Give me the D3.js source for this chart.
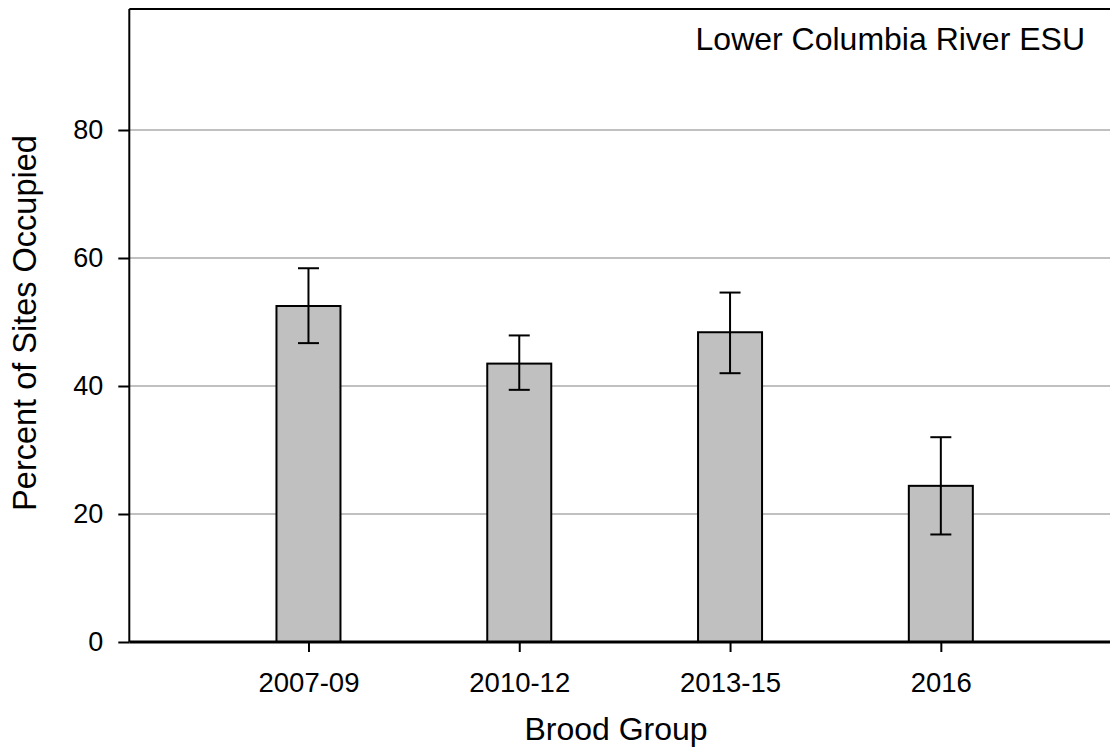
<!DOCTYPE html>
<html>
<head>
<meta charset="utf-8">
<script src="https://cdn.jsdelivr.net/npm/d3@7"></script>
<style>
  html, body { margin: 0; padding: 0; background: #fff; }
  svg { display: block; }
  text { font-family: "Liberation Sans", Arial, sans-serif; fill: #000; }
</style>
</head>
<body>
<svg id="chart" width="1110" height="748"></svg>
<script>
// Brood groups and occupancy estimates with confidence limits
const broodGroups = ["2007-09", "2010-12", "2013-15", "2016"];
const percentOccupied = [52.5, 43.5, 48.4, 24.4];
const upperLimit = [58.4, 47.9, 54.6, 32.0];
const lowerLimit = [46.7, 39.4, 42.0, 16.8];
const yTicks = [0, 20, 40, 60, 80];
const panelTitle = "Lower Columbia River ESU";

const svg = d3.select("#chart");
const plot = { left: 129.3, top: 9, bottom: 642, right: 1120 };
const FONT = "Liberation Sans, Arial, sans-serif";

const positions = broodGroups.map((d, i) => i + 1);
const x = d3.scaleLinear().domain([0.15, 4.85]).range([plot.left, plot.right]);
const y = d3.scaleLinear().domain([0, (plot.bottom - plot.top) / 6.4]).range([plot.bottom, plot.top]);

const barW = 64, capW = 21;

// horizontal gridlines
svg.append("g").selectAll("line").data(yTicks.filter(t => t > 0)).join("line")
  .attr("x1", plot.left).attr("x2", plot.right)
  .attr("y1", d => y(d)).attr("y2", d => y(d))
  .attr("stroke", "#c0c0c0").attr("stroke-width", 2);

// bars
svg.append("g").selectAll("rect").data(percentOccupied).join("rect")
  .attr("x", (d, i) => x(positions[i]) - barW / 2)
  .attr("width", barW)
  .attr("y", d => y(d))
  .attr("height", d => y(0) - y(d))
  .attr("fill", "#c0c0c0").attr("stroke", "#000").attr("stroke-width", 2);

// error bars
const eb = svg.append("g").attr("stroke", "#000").attr("stroke-width", 2);
broodGroups.forEach((g, i) => {
  const cx = x(positions[i]);
  eb.append("line").attr("x1", cx).attr("x2", cx).attr("y1", y(upperLimit[i])).attr("y2", y(lowerLimit[i]));
  eb.append("line").attr("x1", cx - capW / 2).attr("x2", cx + capW / 2).attr("y1", y(upperLimit[i])).attr("y2", y(upperLimit[i]));
  eb.append("line").attr("x1", cx - capW / 2).attr("x2", cx + capW / 2).attr("y1", y(lowerLimit[i])).attr("y2", y(lowerLimit[i]));
});

// frame: top edge
svg.append("line").attr("x1", plot.left).attr("x2", plot.right).attr("y1", plot.top).attr("y2", plot.top)
  .attr("stroke", "#000").attr("stroke-width", 2);

// y axis
const yAxis = svg.append("g").attr("transform", `translate(${plot.left},0)`)
  .call(d3.axisLeft(y).tickValues(yTicks).tickFormat(d3.format("d")).tickSize(11).tickPadding(15));
yAxis.select(".domain").attr("stroke-width", 2).attr("d", `M0,${plot.top}V${plot.bottom}`);
yAxis.selectAll(".tick line").attr("stroke-width", 2);
yAxis.selectAll(".tick text").attr("font-size", 27).attr("font-family", FONT);

// x axis
const xAxis = svg.append("g").attr("transform", `translate(0,${plot.bottom})`)
  .call(d3.axisBottom(x).tickValues(positions).tickFormat((d, i) => broodGroups[i]).tickSize(10).tickPadding(20));
xAxis.select(".domain").attr("stroke-width", 3).attr("d", `M${plot.left},0H${plot.right}`);
xAxis.selectAll(".tick line").attr("stroke-width", 2);
xAxis.selectAll(".tick text").attr("font-size", 27.5).attr("font-family", FONT);

// axis titles, centred on their axes
svg.append("text").attr("x", 616).attr("y", 740).attr("text-anchor", "middle")
  .attr("font-size", 32).text("Brood Group");
svg.append("text").attr("transform", `translate(36,323) rotate(-90)`).attr("text-anchor", "middle")
  .attr("font-size", 32.5).text("Percent of Sites Occupied");

// panel title
svg.append("text").attr("x", 1085).attr("y", 50).attr("text-anchor", "end")
  .attr("font-size", 32).text(panelTitle);
</script>
</body>
</html>
